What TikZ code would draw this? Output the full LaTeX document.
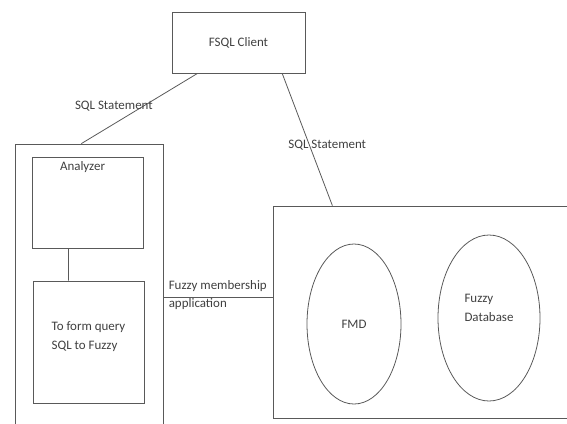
\documentclass[tikz,border=0pt]{standalone}
\usepackage{fontspec}
\setmainfont{Carlito}
\usetikzlibrary{shapes.geometric}

\begin{document}
\begin{tikzpicture}[x=1bp,y=-1bp,
		box/.style={draw=black!65,line width=.8pt,rectangle,inner sep=0pt},
		oval/.style={draw=black!65,line width=.8pt,ellipse,inner sep=0pt},
		txt/.style={text=black!75,inner sep=0pt,font=\fontsize{13}{19}\selectfont},
		link/.style={draw=black!65,line width=.8pt}]
		\useasboundingbox (0,0) rectangle (567,423);
		\clip (0,0) rectangle (567,423);
		\node[box,txt,minimum width=133bp,minimum height=61bp] (client) at (238.5,42.5) {FSQL Client};
		\node[box,minimum width=148bp,minimum height=316bp] (frame) at (89,302) {};
		\node[box,minimum width=111bp,minimum height=91bp] (analyzer) at (87.5,202.5) {};
		\node[txt] (analyzertext) at ([xshift=-5,yshift=-10]analyzer.north) {Analyzer};
		\node[box,minimum width=111bp,minimum height=122bp] (query) at (88.5,342) {};
		\node[txt,align=left] (querytext) at ([yshift=5]query.center) {To form query\\SQL to Fuzzy};
		\node[box,minimum width=347bp,minimum height=212bp] (dbframe) at (446.5,312) {};
		\node[oval,txt,minimum width=94bp,minimum height=160bp] (fmd) at (354,324) {FMD};
		\node[oval,minimum width=102bp,minimum height=166bp] (fuzzydb) at (489,318) {};
		\node[txt,align=left] (fuzzydbtext) at ([yshift=10]fuzzydb.center) {Fuzzy\\Database};
		\draw[link] ([xshift=26]client.south west) -- node[txt,pos=.72,above=12pt] (sqlone) {SQL Statement} ([xshift=67]frame.north west);
		\draw[link] ([xshift=111]client.south west) -- node[txt,pos=.54,xshift=18] (sqltwo) {SQL Statement} ([xshift=60]dbframe.north west);
		\draw[link] ([xshift=37]analyzer.south west) -- ([xshift=36]query.north west);
		\coordinate (member) at ([yshift=15]dbframe.west);
		\draw[link] (frame.east |- member) -- node[txt,pos=0,anchor=west,xshift=5,yshift=2,align=left] (membertext) {Fuzzy membership\\application} (member);
	\end{tikzpicture}
\end{document}
